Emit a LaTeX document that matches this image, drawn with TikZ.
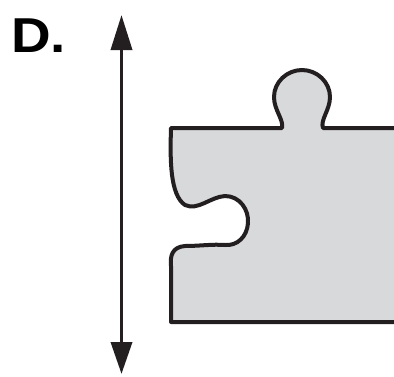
\documentclass[tikz,border=0pt]{standalone}
\usepackage{fontspec}
\setmainfont{Liberation Sans}
\usetikzlibrary{arrows.meta}
\definecolor{piecegray}{HTML}{D8D9DB}
\definecolor{ink}{HTML}{231F20}
\tikzset{
  outline/.style={draw=ink, line width=4pt, line join=round, line cap=round},
  axisarrow/.style={draw=ink, line width=3.6pt, {Triangle[length=35pt,width=21pt]}-{Triangle[length=32pt,width=21pt]}},
  labeltext/.style={inner sep=0pt, anchor=base west, font=\fontsize{49}{49}\selectfont\bfseries, text=black}
}
\begin{document}
\begin{tikzpicture}[x=1pt,y=-1pt]
\useasboundingbox (0,0) rectangle (394,376);
\clip (0,0) rectangle (394,376);
% label
\node[labeltext] (lbl) at (11,52) {\scalebox{1.12}[1]{D.}};
% vertical double arrow
\coordinate (atop) at (121.5,15);
\coordinate (abot) at (121.5,374);
\draw[axisarrow] (atop) -- (abot);
% puzzle piece fill
\fill[piecegray] (400,128) -- (323,128) .. controls (320,120) and (330,110) .. (330,97)
  .. controls (330,82) and (317,70) .. (302,70)
  .. controls (287,70) and (274,82) .. (274,97)
  .. controls (274,110) and (284,120) .. (282,128)
  -- (171,128) .. controls (170,160) and (170,195) .. (185,205)
  .. controls (198,211) and (210,197) .. (225,196)
  .. controls (240,196) and (249,210) .. (248,223)
  .. controls (247,237) and (237,246) .. (225,245)
  .. controls (212,244) and (200,246) .. (185,246)
  .. controls (172,247) and (170,256) .. (171,266)
  -- (171,322) -- (400,322) -- cycle;
% puzzle piece outline
\draw[outline] (400,128) -- (323,128) .. controls (320,120) and (330,110) .. (330,97)
  .. controls (330,82) and (317,70) .. (302,70)
  .. controls (287,70) and (274,82) .. (274,97)
  .. controls (274,110) and (284,120) .. (282,128)
  -- (171,128) .. controls (170,160) and (170,195) .. (185,205)
  .. controls (198,211) and (210,197) .. (225,196)
  .. controls (240,196) and (249,210) .. (248,223)
  .. controls (247,237) and (237,246) .. (225,245)
  .. controls (212,244) and (200,246) .. (185,246)
  .. controls (172,247) and (170,256) .. (171,266)
  -- (171,322) -- (400,322);
\end{tikzpicture}
\end{document}
